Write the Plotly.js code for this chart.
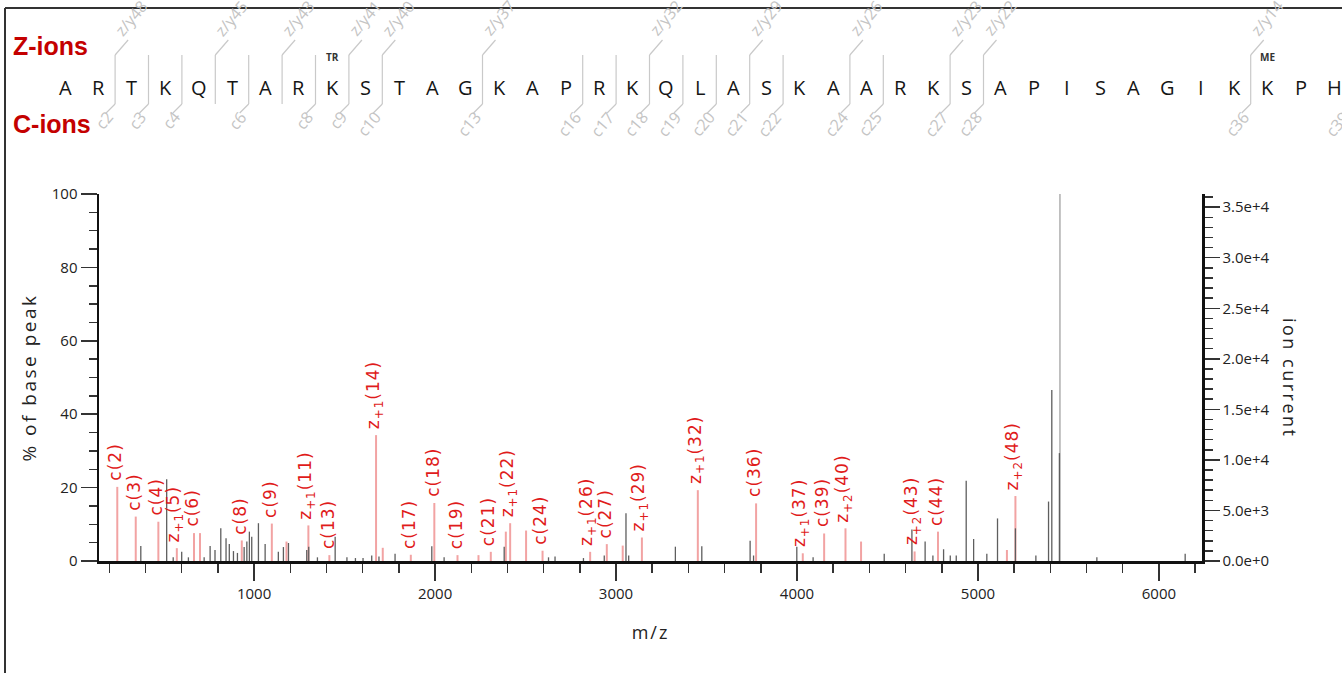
<!DOCTYPE html>
<html>
<head>
<meta charset="utf-8">
<script src="https://cdn.plot.ly/plotly-3.0.1.min.js"></script>
<style>
  html, body { margin: 0; padding: 0; background: #fff; }
  #chart { width: 1342px; height: 673px; }
</style>
</head>
<body>
<div id="chart"></div>
<script>
// ---- Peptide and fragment map ----
const residues = ['A','R','T','K','Q','T','A','R','K','S','T','A','G','K','A','P','R','K','Q','L',
                  'A','S','K','A','A','R','K','S','A','P','I','S','A','G','I','K','K','P','H'];
const peptideLength = 50;
// cleavage sites (after residue n) supported by c ions and by z/y ions
const cSites = [2,3,4,6,8,9,10,13,16,17,18,19,20,21,22,24,25,27,28,36,39];
const zSites = [2,5,7,9,10,13,18,21,24,27,28,36];
// modified residues (1-based) and their tags
const modResidues = [9, 37];
const modTags = ['TR', 'ME'];

// ---- Spectrum: assigned fragment peaks (m/z, % of base peak, label) ----
const fragMz  = [244, 346, 471, 573, 668, 932, 1098, 1300, 1416, 1674, 1866, 1996, 2124, 2308,
                 2415, 2594, 2857, 2949, 3143, 3452, 3774, 4032, 4150, 4268, 4650, 4779, 5207];
const fragPct = [20.2, 12.1, 10.7, 3.5, 7.6, 5.6, 10.2, 9.7, 1.6, 34.3, 1.7, 15.8, 1.6, 2.5,
                 10.3, 2.8, 2.5, 4.6, 6.4, 19.3, 15.7, 2.1, 7.5, 8.9, 2.6, 8.0, 17.7];
const fragLabel = ['c(2)','c(3)','c(4)','z+1(5)','c(6)','c(8)','c(9)','z+1(11)','c(13)','z+1(14)',
                   'c(17)','c(18)','c(19)','c(21)','z+1(22)','c(24)','z+1(26)','c(27)','z+1(29)',
                   'z+1(32)','c(36)','z+1(37)','c(39)','z+2(40)','z+2(43)','c(44)','z+2(48)'];

// matched peaks without a printed label
const matchedMz  = [701, 1179, 1711, 2240, 2391, 2503, 3037, 4354, 5160];
const matchedPct = [7.6, 5.3, 3.6, 1.6, 8.0, 8.3, 4.2, 5.3, 3.0];

// unassigned peaks
const otherMz  = [374, 517, 553, 600, 637, 724, 757, 784, 816, 845, 863, 886, 908, 945, 960, 974,
                  987, 1024, 1061, 1134, 1162, 1190, 1291, 1302, 1350, 1448, 1513, 1560, 1602, 1650,
                  1690, 1779, 1982, 2050, 2382, 2627, 2663, 2820, 2935, 3055, 3070, 3328, 3474, 3741,
                  3760, 3999, 4089, 4482, 4635, 4708, 4751, 4810, 4847, 4880, 4935, 4976, 5049, 5108,
                  5207, 5320, 5390, 5408, 5450, 5657, 6145];
const otherPct = [4.1, 22.3, 1.0, 2.5, 1.0, 1.0, 4.1, 3.0, 8.9, 6.2, 4.6, 2.7, 2.2, 3.8, 5.3, 8.0,
                  6.6, 10.3, 4.6, 2.5, 3.8, 4.9, 3.0, 3.9, 1.0, 6.6, 1.0, 0.8, 0.8, 1.5,
                  1.2, 2.0, 4.0, 1.0, 3.9, 1.0, 1.2, 0.8, 1.5, 13.0, 1.5, 3.9, 4.0, 5.5,
                  1.5, 3.9, 1.0, 2.0, 8.6, 5.3, 1.5, 3.2, 1.5, 1.5, 21.9, 6.0, 2.0, 11.6,
                  8.9, 1.5, 16.2, 46.6, 29.4, 1.0, 2.0];

// base peak
const baseMz  = [5453];
const basePct = [100];
const baseIonCurrent = 36300;

// ---- Geometry of the plot area (px) ----
const L = 99, R = 1202, T = 194, B = 561;
const px = X => (X - L) / (R - L);
const py = Y => (B - Y) / (B - T);

function stems(xs, ys) {
  const X = [], Y = [];
  xs.forEach((x, i) => { X.push(x, x, null); Y.push(0, ys[i], null); });
  return { x: X, y: Y };
}

const traces = [
  Object.assign({ type: 'scatter', mode: 'lines', name: 'base', hoverinfo: 'skip',
    line: { color: '#b4b4b4', width: 1.6 } }, stems(baseMz, basePct)),
  Object.assign({ type: 'scatter', mode: 'lines', name: 'matched', hoverinfo: 'skip',
    line: { color: '#f2a3a3', width: 2 } }, stems(fragMz.concat(matchedMz), fragPct.concat(matchedPct))),
  Object.assign({ type: 'scatter', mode: 'lines', name: 'other', hoverinfo: 'skip',
    line: { color: '#5e5e5e', width: 1.3 } }, stems(otherMz, otherPct)),
  // carries the ion-current axis
  { type: 'scatter', mode: 'lines', x: [null], y: [null], yaxis: 'y2', hoverinfo: 'skip', showlegend: false }
];

const annotations = [];
const shapes = [];

// peak labels
function labelHtml(s) {
  return '<span style="letter-spacing:1px">' + s.replace(/^z\+(\d)/, 'z<sub>+$1</sub>') + '</span>';
}
fragMz.forEach((mz, i) => {
  annotations.push({
    x: mz, y: fragPct[i], xref: 'x', yref: 'y', text: labelHtml(fragLabel[i]),
    textangle: -90, showarrow: false, xanchor: 'center', yanchor: 'bottom', yshift: 4, xshift: -2,
    font: { family: 'DejaVu Sans', size: 17, color: '#e01b1b' }
  });
});

// ---- Fragment map header ----
const seqX0 = 65, seqStep = 33.4;
const resX = r => seqX0 + seqStep * (r - 1);        // centre of residue r (1-based)
const cutX = n => resX(n) + seqStep / 2;            // cleavage after residue n
const lineTop = 55, lineBot = 104;
const mapGray = '#c9c9c9';
const mapFont = { family: 'Open Sans', size: 16, color: '#c4c4c4' };

residues.forEach((aa, k) => {
  annotations.push({
    x: px(resX(k + 1)), y: py(87), xref: 'paper', yref: 'paper', text: aa, showarrow: false,
    xanchor: 'center', yanchor: 'middle', font: { family: 'Open Sans', size: 20, color: '#151515' }
  });
});
modResidues.forEach((r, k) => {
  annotations.push({
    x: px(resX(r)), y: py(57), xref: 'paper', yref: 'paper', text: '<b>' + modTags[k] + '</b>',
    showarrow: false, xanchor: 'center', yanchor: 'middle',
    font: { family: 'Open Sans', size: 10, color: '#333' }
  });
});

const allSites = Array.from(new Set(cSites.concat(zSites))).sort((a, b) => a - b);
const seg = (x0, y0, x1, y1) => ({
  type: 'line', xref: 'paper', yref: 'paper', x0: px(x0), y0: py(y0), x1: px(x1), y1: py(y1),
  line: { color: mapGray, width: 1.2 }
});
allSites.forEach(n => shapes.push(seg(cutX(n), lineTop, cutX(n), lineBot)));
zSites.forEach(n => {
  const x = cutX(n);
  shapes.push(seg(x, lineTop, x + 13, lineTop - 15));
  annotations.push({
    x: px(x - 8), y: py(43), xref: 'paper', yref: 'paper', text: 'z/y' + (peptideLength - n),
    textangle: -50, showarrow: false, xanchor: 'left', yanchor: 'bottom', font: mapFont
  });
});
cSites.forEach(n => {
  const x = cutX(n);
  shapes.push(seg(x, lineBot, x - 9, lineBot + 9));
  annotations.push({
    x: px(x + 6), y: py(104), xref: 'paper', yref: 'paper', text: 'c' + n,
    textangle: -50, showarrow: false, xanchor: 'right', yanchor: 'top', font: mapFont
  });
});

// ion series captions
annotations.push({
  x: px(11), y: py(46), xref: 'paper', yref: 'paper', text: '<b>Z-ions</b>', showarrow: false,
  xanchor: 'left', yanchor: 'middle', font: { family: 'Liberation Sans', size: 25, color: '#c40000' }
});
annotations.push({
  x: px(11), y: py(124), xref: 'paper', yref: 'paper', text: '<b>C-ions</b>', showarrow: false,
  xanchor: 'left', yanchor: 'middle', font: { family: 'Liberation Sans', size: 25, color: '#c40000' }
});

// right-hand axis title
annotations.push({
  x: px(1290), y: py(378), xref: 'paper', yref: 'paper',
  text: '<span style="letter-spacing:2.5px">ion current</span>', textangle: 90, showarrow: false,
  xanchor: 'center', yanchor: 'middle', font: { family: 'Open Sans', size: 18, color: '#222' }
});

// frame
shapes.push({ type: 'line', xref: 'paper', yref: 'paper', x0: px(5), y0: py(8), x1: px(1400), y1: py(8),
  line: { color: '#333', width: 2 } });
shapes.push({ type: 'line', xref: 'paper', yref: 'paper', x0: px(5), y0: py(8), x1: px(5), y1: py(700),
  line: { color: '#333', width: 2 } });

const tickFont = { family: 'Open Sans', size: 15, color: '#222' };
const layout = {
  width: 1342, height: 673,
  margin: { l: L, r: 1342 - R, t: T, b: 673 - B, pad: 0 },
  paper_bgcolor: '#fff', plot_bgcolor: '#fff',
  showlegend: false,
  xaxis: {
    range: [143, 6238], showgrid: false, zeroline: false,
    showline: true, linewidth: 2.5, linecolor: '#111',
    ticks: 'outside', ticklen: 17, tickwidth: 1.5, tickcolor: '#333',
    tick0: 0, dtick: 1000, tickfont: tickFont,
    minor: { ticks: 'outside', ticklen: 9, tickwidth: 1.5, tickcolor: '#333', tick0: 0, dtick: 200, showgrid: false },
    title: { text: '<span style="letter-spacing:2px">m/z</span>', standoff: 25,
             font: { family: 'Open Sans', size: 18, color: '#222' } }
  },
  yaxis: {
    range: [0, 100], showgrid: false, zeroline: false,
    showline: true, linewidth: 2.5, linecolor: '#111',
    ticks: 'outside', ticklen: 16, tickwidth: 1.5, tickcolor: '#333',
    tick0: 0, dtick: 20, tickfont: tickFont,
    minor: { ticks: 'outside', ticklen: 8, tickwidth: 1.5, tickcolor: '#333', tick0: 0, dtick: 5, showgrid: false },
    title: { text: '<span style="letter-spacing:2.5px">% of base peak</span>', standoff: 10,
             font: { family: 'Open Sans', size: 19, color: '#222' } }
  },
  yaxis2: {
    overlaying: 'y', side: 'right', anchor: 'x',
    range: [0, baseIonCurrent], showgrid: false, zeroline: false,
    showline: true, linewidth: 2.5, linecolor: '#111',
    ticks: 'outside', ticklen: 15, tickwidth: 1.5, tickcolor: '#333',
    tick0: 0, dtick: 5000, tickformat: '.1e', tickfont: tickFont,
    minor: { ticks: 'outside', ticklen: 8, tickwidth: 1.5, tickcolor: '#333', tick0: 0, dtick: 1000, showgrid: false }
  },
  annotations: annotations,
  shapes: shapes
};

Plotly.newPlot('chart', traces, layout, { staticPlot: true, displayModeBar: false });
</script>
</body>
</html>
